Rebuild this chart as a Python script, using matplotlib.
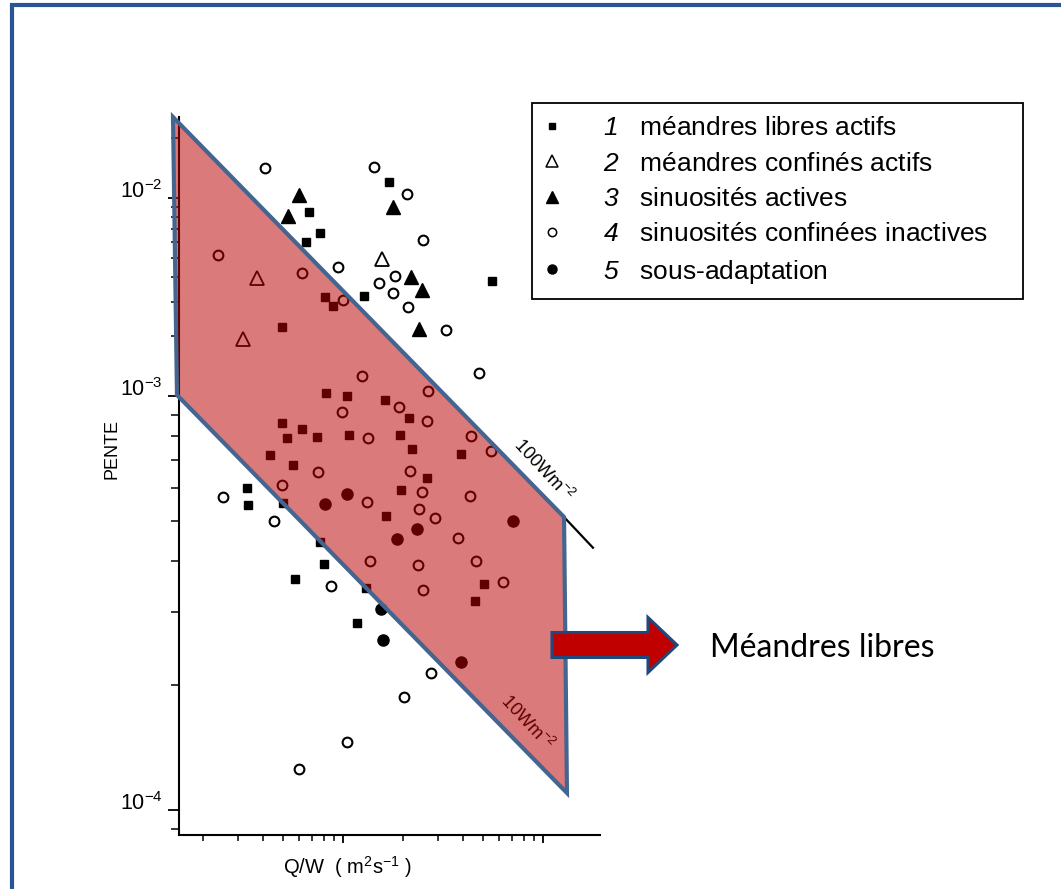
import numpy as np
import matplotlib
matplotlib.use("Agg")
import matplotlib.pyplot as plt
from matplotlib.lines import Line2D
from matplotlib.patches import Polygon, Rectangle, FancyArrow
from matplotlib.ticker import FixedLocator, FixedFormatter, NullFormatter

plt.rcParams['font.family'] = ['Liberation Sans', 'DejaVu Sans']
plt.rcParams['mathtext.fontset'] = 'custom'
plt.rcParams['mathtext.rm'] = 'Liberation Sans'
plt.rcParams['mathtext.it'] = 'Liberation Sans:italic'
plt.rcParams['mathtext.cal'] = 'Liberation Sans:italic'
plt.rcParams['mathtext.bf'] = 'Liberation Sans:bold'

# ---------------- data (Q/W in m2/s, slope) ----------------
# 1 méandres libres actifs (filled squares)
sq_q = [1.698, 0.676, 0.767, 0.653, 0.813, 0.891, 1.274, 0.496, 0.822, 1.047,
        1.622, 5.559, 2.138, 1.928, 2.213, 3.890, 2.630, 1.950, 1.641, 5.070,
        4.571, 0.496, 0.624, 0.525, 0.741, 1.072, 0.432, 0.562, 0.331, 0.335,
        0.501, 0.767, 0.804, 0.575, 1.303, 1.175]
sq_s = [1.205e-2, 8.50e-3, 6.66e-3, 6.00e-3, 3.16e-3, 2.85e-3, 3.20e-3, 2.23e-3, 1.035e-3, 1.00e-3,
        9.78e-4, 3.81e-3, 8.85e-4, 8.05e-4, 7.45e-4, 7.24e-4, 6.34e-4, 5.93e-4, 5.13e-4, 3.51e-4,
        3.20e-4, 8.61e-4, 8.32e-4, 7.92e-4, 7.96e-4, 8.05e-4, 7.20e-4, 6.81e-4, 6.00e-4, 5.45e-4,
        5.51e-4, 4.44e-4, 3.93e-4, 3.61e-4, 3.44e-4, 2.83e-4]

# 2 méandres confinés actifs (open triangles)
otri_q = [0.372, 0.316, 1.567]
otri_s = [3.94e-3, 1.94e-3, 4.92e-3]

# 3 sinuosités actives (filled triangles)
ftri_q = [0.603, 1.778, 0.531, 2.188, 2.483, 2.399]
ftri_s = [1.035e-2, 9.0e-3, 8.11e-3, 3.99e-3, 3.43e-3, 2.18e-3]

# 4 sinuosités confinées inactives (open circles)
oc_q = [0.407, 1.429, 2.089, 0.237, 0.624, 0.944, 1.514, 1.820, 1.778, 1.000,
        2.512, 2.113, 3.273, 1.245, 4.786, 2.661, 1.905, 2.630, 4.365, 5.495,
        0.989, 1.334, 2.163, 2.483, 4.315, 2.399, 2.884, 3.758, 2.371, 4.624,
        6.310, 2.512, 0.750, 0.496, 0.251, 1.318, 0.452, 1.365, 0.871, 2.754,
        2.018, 1.047, 0.603]
oc_s = [1.418e-2, 1.435e-2, 1.047e-2, 5.15e-3, 4.18e-3, 4.48e-3, 3.72e-3, 4.04e-3, 3.31e-3, 3.05e-3,
        6.14e-3, 2.82e-3, 2.15e-3, 1.26e-3, 1.31e-3, 1.06e-3, 9.41e-4, 8.70e-4, 8.00e-4, 7.36e-4,
        9.15e-4, 7.92e-4, 6.59e-4, 5.86e-4, 5.73e-4, 5.33e-4, 5.08e-4, 4.54e-4, 3.91e-4, 3.99e-4,
        3.55e-4, 3.40e-4, 6.55e-4, 6.10e-4, 5.70e-4, 5.55e-4, 4.99e-4, 3.99e-4, 3.48e-4, 2.14e-4,
        1.874e-4, 1.460e-4, 1.256e-4]

# 5 sous-adaptation (filled circles)
fc_q = [7.079, 2.344, 1.862, 1.047, 0.813, 1.549, 1.585, 3.890]
fc_s = [4.99e-4, 4.77e-4, 4.51e-4, 5.80e-4, 5.48e-4, 3.06e-4, 2.57e-4, 2.28e-4]

# "Méandres libres" domain (between 10 and 100 W m-2)
poly_q = [0.1413, 12.74, 13.18, 0.1479]
poly_s = [2.564e-2, 5.10e-4, 1.099e-4, 1.012e-3]
# continuation of the 100 W m-2 line
ext_q = [12.74, 17.78]
ext_s = [5.10e-4, 4.30e-4]

legend_labels = [r"$\mathcal{1}$   méandres libres actifs",
                 r"$\mathcal{2}$   méandres confinés actifs",
                 r"$\mathcal{3}$   sinuosités actives",
                 r"$\mathcal{4}$   sinuosités confinées inactives",
                 r"$\mathcal{5}$   sous-adaptation"]
ytick_vals = [1e-4, 1e-3, 1e-2]
ytick_labels = [r"$10^{-4}$", r"$10^{-3}$", r"$10^{-2}$"]

# ---------------- y scale of the scanned figure ----------------
RATIO = 414.0 / 198.0   # lower decade drawn wider than upper one


def fwd(y):
    t = np.log10(np.clip(np.asarray(y, dtype=float), 1e-30, None)) + 3.0
    return np.where(t >= 0, t, t * RATIO)


def inv(s):
    s = np.asarray(s, dtype=float)
    with np.errstate(over='ignore'):
        return np.where(s >= 0, 10.0 ** (s - 3.0), 10.0 ** (s / RATIO - 3.0))


fig = plt.figure(figsize=(10.61, 8.89), dpi=100)
fig.patch.set_facecolor('white')
ax = fig.add_axes([0.16871, 0.06074, 0.39680, 0.82115])
ax.set_facecolor('none')
ax.set_xscale('log')
ax.set_yscale('function', functions=(fwd, inv))
ax.set_xlim(0.1514, 19.28)
ax.set_ylim(8.70e-5, 0.02949)

# points
ax.plot(sq_q, sq_s, ls='none', marker='s', ms=6, mfc='k', mec='k', zorder=2)
ax.plot(otri_q, otri_s, ls='none', marker='^', ms=10, mfc='white', mec='k', mew=1.3, zorder=2)
ax.plot(ftri_q, ftri_s, ls='none', marker='^', ms=10, mfc='k', mec='k', zorder=2)
ax.plot(oc_q, oc_s, ls='none', marker='o', ms=7, mfc='white', mec='k', mew=1.5, zorder=2)
ax.plot(fc_q, fc_s, ls='none', marker='o', ms=8, mfc='k', mec='k', zorder=2)

ax.text(8.318, 1.632e-4, "10Wm$^{-2}$", rotation=-47, ha='center', va='center',
        fontsize=13, color='k', zorder=2.5, rotation_mode='anchor')

verts = np.column_stack([poly_q, poly_s])
ax.add_patch(Polygon(verts, closed=True, facecolor='#bb0000', alpha=0.52,
                     edgecolor='none', zorder=3, clip_on=False))
ax.plot(ext_q, ext_s, color='k', lw=1.6, zorder=3.5, clip_on=False)
ax.add_patch(Polygon(verts, closed=True, fill=False, edgecolor='#44658f',
                     lw=3, zorder=4, clip_on=False, joinstyle='miter'))

ax.text(10.0, 6.62e-4, "100Wm$^{-2}$", rotation=-47, ha='center', va='center',
        fontsize=13, color='k', zorder=5, rotation_mode='anchor')

# axes styling
for side in ('top', 'right'):
    ax.spines[side].set_visible(False)
for side in ('left', 'bottom'):
    ax.spines[side].set_linewidth(1.5)
ax.spines['left'].set_bounds(8.70e-5, poly_s[0])

ax.yaxis.set_major_locator(FixedLocator(ytick_vals))
ax.yaxis.set_major_formatter(FixedFormatter(ytick_labels))
ax.yaxis.set_minor_locator(FixedLocator([k * 10.0 ** e for e in (-5, -4, -3, -2)
                                         for k in range(2, 10)]))
ax.yaxis.set_minor_formatter(NullFormatter())
ax.xaxis.set_major_formatter(NullFormatter())
ax.xaxis.set_minor_formatter(NullFormatter())
ax.tick_params(axis='y', which='major', direction='out', length=8, width=1.3,
               labelsize=15.5, pad=4)
ax.tick_params(axis='y', which='minor', direction='out', length=6, width=1.1)
ax.tick_params(axis='x', which='major', direction='out', length=6, width=1.3)
ax.tick_params(axis='x', which='minor', direction='out', length=4, width=1.1)
for t in ax.yaxis.get_major_ticks():
    t.label1.set_verticalalignment('baseline')

ax.set_ylabel("PENTE", fontsize=13)
ax.yaxis.set_label_coords(-0.138, 0.529)
ax.set_xlabel("Q/W  ( m$^2$s$^{-1}$ )", fontsize=14.5)
ax.xaxis.set_label_coords(0.401, -0.026)

# legend
handles = [
    Line2D([], [], ls='none', marker='s', ms=5, mfc='k', mec='k'),
    Line2D([], [], ls='none', marker='^', ms=8, mfc='white', mec='k', mew=1.1),
    Line2D([], [], ls='none', marker='^', ms=9, mfc='k', mec='k'),
    Line2D([], [], ls='none', marker='o', ms=6, mfc='white', mec='k', mew=1.1),
    Line2D([], [], ls='none', marker='o', ms=6.5, mfc='k', mec='k'),
]
leg = ax.legend(handles, legend_labels, loc='upper left',
                bbox_to_anchor=(532 / 1061, 1 - 289 / 889, 491 / 1061, 186 / 889),
                bbox_transform=fig.transFigure, mode='expand', borderaxespad=0,
                fontsize=19, frameon=True, fancybox=False, framealpha=1,
                edgecolor='k', borderpad=0.5, labelspacing=0.43,
                handlelength=0.5, handletextpad=1.7)
leg.get_frame().set_linewidth(1.3)
leg.set_zorder(10)

# annotation arrow + text
arrow = FancyArrow(552 / 1061, 1 - 645 / 889, 125 / 1061, 0, width=25 / 889,
                   head_width=55 / 889, head_length=29 / 1061,
                   length_includes_head=True, facecolor='#c00000',
                   edgecolor='#1f497d', lw=2.2, transform=fig.transFigure, zorder=20)
fig.add_artist(arrow)
fig.text(710 / 1061, 1 - 657 / 889, "Méandres libres", fontsize=23,
         family=['Lato', 'DejaVu Sans'], ha='left', va='baseline', color='k')

# slide frame
fig.add_artist(Rectangle((12 / 1061, -0.1), 1.2, 1.1 - 5 / 889, transform=fig.transFigure,
                         fill=False, edgecolor='#2b5592', lw=3, clip_on=False))

fig.savefig("out.png", dpi=100)
